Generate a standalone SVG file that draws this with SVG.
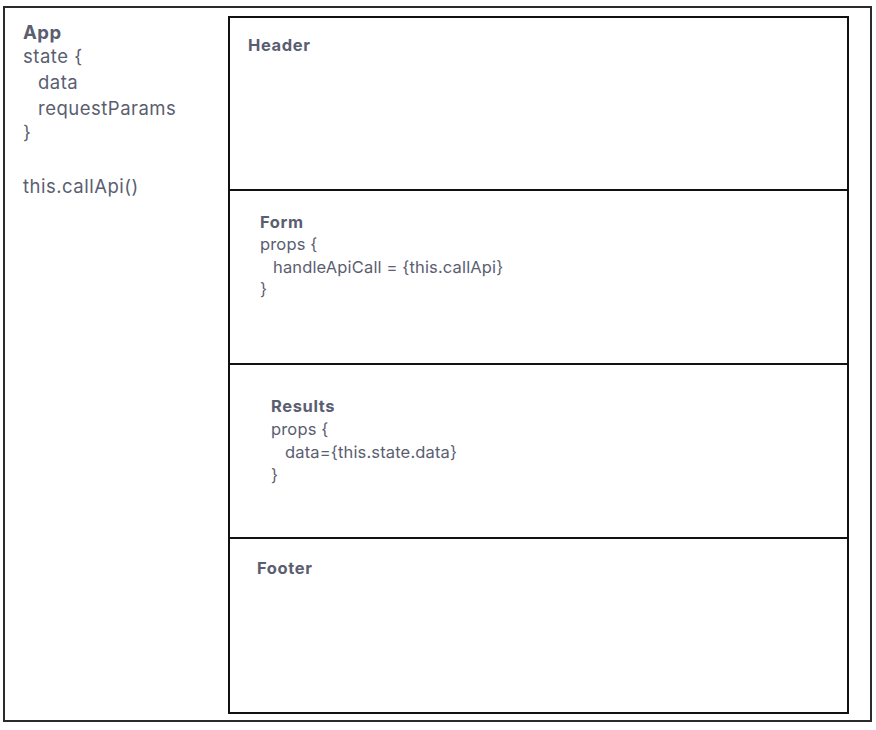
<svg xmlns="http://www.w3.org/2000/svg" width="876" height="730" viewBox="0 0 876 730">
<style>
.box{fill:none;stroke:#111;stroke-width:2}
.outer{fill:#fff;stroke:#2a2a2a;stroke-width:2}
text{font-family:Inter,"Noto Sans",sans-serif;fill:#5a5e70}
.t1{font-size:18.5px;letter-spacing:0.5px}
.t2{font-size:16.5px;letter-spacing:0.15px}
.b{font-weight:700}
.t2.b{letter-spacing:0.6px}
</style>
<rect width="876" height="730" fill="#fff"/>
<g id="app">
<rect class="outer" x="4" y="7" width="867" height="714"/>
<text class="t1 b" x="23" y="39">App</text>
<text class="t1" x="23" y="63">state {</text>
<text class="t1" x="38" y="89">data</text>
<text class="t1" x="38" y="115">requestParams</text>
<text class="t1" x="23" y="139">}</text>
<text class="t1" x="23" y="193">this.callApi()</text>
</g>
<g id="header">
<rect class="box" x="229" y="17" width="619" height="173"/>
<text class="t2 b" x="248" y="51">Header</text>
</g>
<g id="form">
<rect class="box" x="229" y="190" width="619" height="174"/>
<text class="t2 b" x="260" y="228">Form</text>
<text class="t2" x="260" y="250">props {</text>
<text class="t2" x="273" y="273">handleApiCall = {this.callApi}</text>
<text class="t2" x="260" y="295">}</text>
</g>
<g id="results">
<rect class="box" x="229" y="364" width="619" height="174"/>
<text class="t2 b" x="271" y="412">Results</text>
<text class="t2" x="271" y="435">props {</text>
<text class="t2" x="285" y="458">data={this.state.data}</text>
<text class="t2" x="271" y="481">}</text>
</g>
<g id="footer">
<rect class="box" x="229" y="538" width="619" height="175"/>
<text class="t2 b" x="257" y="574">Footer</text>
</g>
<g id="connectors"></g>
</svg>
